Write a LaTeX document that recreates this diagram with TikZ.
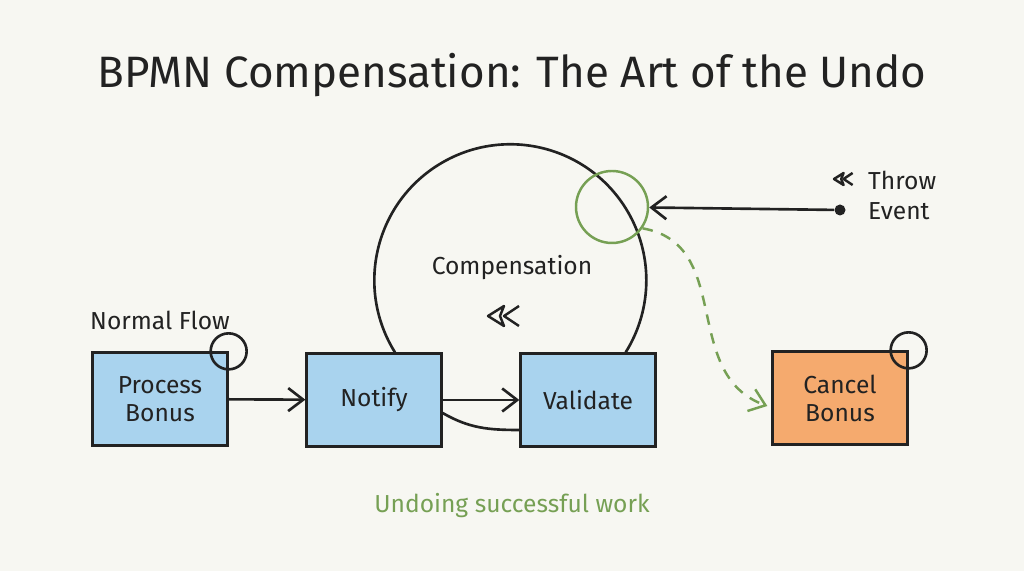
\documentclass[tikz,border=0pt]{standalone}
\usepackage{fontspec}
\setmainfont{Fira Sans}
\usepackage{xcolor}
\usetikzlibrary{positioning, calc, arrows.meta}

\definecolor{paper}{HTML}{F7F7F2}
\definecolor{taskblue}{HTML}{A9D3EE}
\definecolor{taskorange}{HTML}{F5AA6E}
\definecolor{sage}{HTML}{76A054}
\definecolor{ink}{HTML}{222222}

\begin{document}
\begin{tikzpicture}[
    x=0.2mm, y=0.2mm,
    task/.style={draw=ink, line width=1.3pt, minimum width=27mm,
                 minimum height=18.6mm, align=center, font=\fontsize{14}{16}\selectfont,
                 text=ink},
    arw/.style={-{Straight Barb[length=3mm, width=4.6mm]}, line width=1.5pt, draw=ink},
    ring/.style={draw=ink, line width=1.5pt},
    lbl/.style={font=\fontsize{14}{16}\selectfont, text=ink},
    compmark/.pic={
        \draw[ink, line width=1.4pt, line join=round]
            (6,10) -- (-10,0) -- (6,-10) -- (2,0) -- cycle;
        \draw[ink, line width=1.4pt, line join=round]
            (21,10) -- (6,0) -- (21,-10);
    },
]
% --- Canvas ---
\fill[paper] (0,0) rectangle (1024,571);
\useasboundingbox (0,0) rectangle (1024,571);

% --- Title ---
\node[font=\fontsize{25}{30}\selectfont, text=ink] (title) at (512,496)
    {BPMN Compensation: The Art of the Undo};

% --- Tasks ---
\node[task, fill=taskblue] (process) at (160,172) {Process\\Bonus};
\node[task, fill=taskblue] (notify) at (374,171) {Notify};
\node[task, fill=taskblue] (validate) at (588,171) {Validate};
\node[task, fill=taskorange] (cancel) at (840,173) {Cancel\\Bonus};

% --- Corner markers ---
\node[ring, circle, minimum size=7.2mm, inner sep=0pt] (pmark) at (process.north east) {};
\node[ring, circle, minimum size=7.2mm, inner sep=0pt] (cmark) at (cancel.north east) {};

% --- Labels ---
\node[lbl] (normal) at (160,251) {Normal Flow};
\node[lbl] (complbl) at (512,303) {Compensation};
\pic at (498,255) {compmark};
\node[font=\fontsize{14}{16}\selectfont, text=sage] (undo) at (512,65)
    {Undoing successful work};

% --- Compensation loop ---
\draw[ring] ($(notify.north)+(21,0)$) arc[start angle=212, end angle=-32, radius=136];
\draw[ring] ($(notify.east)+(0,-13)$) to[out=-30, in=180] ($(validate.west)+(0,-30)$);

% --- Boundary event ---
\node[circle, draw=sage, line width=1.4pt, minimum size=14.4mm, inner sep=0pt]
    (boundary) at (612,364) {};

% --- Throw event ---
\node[circle, fill=ink, minimum size=2.2mm, inner sep=0pt] (throw) at (840,361) {};
\node[lbl, anchor=west] (throwtxt) at (862,391) {Throw};
\node[lbl, anchor=west] (eventtxt) at (862,360) {Event};
\pic[scale=0.6] at (840,392) {compmark};

% --- Arrows ---
\draw[arw] (process) -- (notify);
\draw[arw] (notify) -- (validate);
\draw[arw] (throw) -- (boundary);
\draw[-{Straight Barb[length=3mm, width=4.6mm]}, sage, line width=1.4pt,
      dash pattern=on 6pt off 5pt]
    (boundary.-35) to[out=-10, in=160, looseness=1.1] ($(cancel.west)+(-4,-8)$);
\end{tikzpicture}
\end{document}
